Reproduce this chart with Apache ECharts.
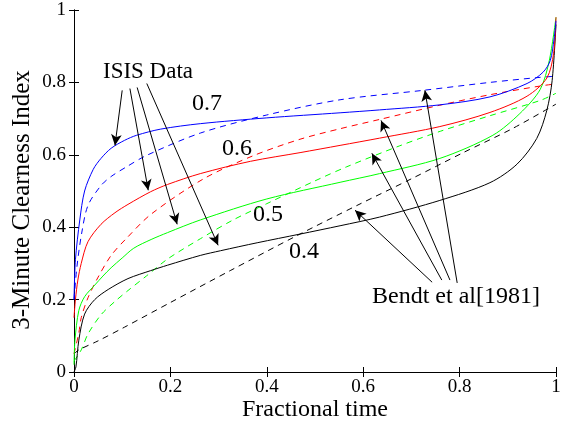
<!DOCTYPE html>
<html>
<head>
<meta charset="utf-8">
<script src="https://cdn.jsdelivr.net/npm/echarts@6/dist/echarts.min.js"></script>
<style>
  html, body { margin: 0; padding: 0; background: #fff; }
  #chart { width: 564px; height: 425px; }
</style>
</head>
<body>
<div id="chart"></div>
<script>
// ISIS data (solid) - [fractional time, clearness index]
const isis07 = [[0, 0.2], [0.003, 0.31], [0.012, 0.42], [0.022, 0.5], [0.04, 0.56], [0.056, 0.59], [0.077, 0.618], [0.105, 0.64], [0.13, 0.654], [0.18, 0.671], [0.262, 0.686], [0.4, 0.702], [0.552, 0.716], [0.634, 0.724], [0.759, 0.738], [0.863, 0.76], [0.94, 0.797], [0.973, 0.828], [0.988, 0.86], [0.996, 0.92], [1, 0.97]];
const isis06 = [[0, 0.15], [0.003, 0.2], [0.008, 0.254], [0.015, 0.3], [0.029, 0.36], [0.056, 0.408], [0.085, 0.44], [0.112, 0.463], [0.159, 0.498], [0.194, 0.518], [0.262, 0.548], [0.366, 0.582], [0.469, 0.606], [0.552, 0.626], [0.634, 0.646], [0.759, 0.678], [0.863, 0.717], [0.94, 0.762], [0.981, 0.812], [0.995, 0.88], [1, 0.98]];
const isis05 = [[0, 0.02], [0.002, 0.088], [0.01, 0.17], [0.022, 0.208], [0.043, 0.24], [0.06, 0.265], [0.077, 0.288], [0.1, 0.315], [0.124, 0.342], [0.16, 0.366], [0.194, 0.385], [0.262, 0.42], [0.4, 0.478], [0.552, 0.524], [0.634, 0.548], [0.759, 0.59], [0.869, 0.654], [0.925, 0.714], [0.967, 0.78], [0.986, 0.86], [1, 0.98]];
const isis04 = [[0, 0], [0.004, 0.014], [0.01, 0.088], [0.022, 0.16], [0.043, 0.2], [0.071, 0.228], [0.112, 0.258], [0.159, 0.28], [0.194, 0.295], [0.262, 0.322], [0.304, 0.335], [0.38, 0.357], [0.469, 0.381], [0.552, 0.404], [0.634, 0.428], [0.759, 0.474], [0.863, 0.523], [0.919, 0.574], [0.96, 0.645], [0.981, 0.723], [0.992, 0.805], [1, 0.96]];

// Bendt et al [1981] (dashed)
const bendt07 = [[0, 0.2], [0.006, 0.29], [0.016, 0.384], [0.029, 0.46], [0.056, 0.515], [0.077, 0.54], [0.108, 0.566], [0.15, 0.598], [0.262, 0.66], [0.4, 0.71], [0.552, 0.752], [0.724, 0.778], [0.863, 0.8], [0.967, 0.814], [1, 0.817]];
const bendt06 = [[0, 0.05], [0.01, 0.108], [0.015, 0.15], [0.029, 0.205], [0.05, 0.262], [0.077, 0.322], [0.108, 0.368], [0.16, 0.436], [0.268, 0.533], [0.371, 0.597], [0.469, 0.643], [0.552, 0.672], [0.635, 0.698], [0.759, 0.737], [0.863, 0.766], [0.967, 0.79], [1, 0.796]];
const bendt05 = [[0, 0.03], [0.015, 0.061], [0.029, 0.105], [0.056, 0.158], [0.085, 0.195], [0.112, 0.225], [0.15, 0.265], [0.194, 0.312], [0.262, 0.368], [0.33, 0.42], [0.4, 0.465], [0.5, 0.528], [0.566, 0.567], [0.676, 0.625], [0.76, 0.665], [0.863, 0.708], [0.967, 0.75], [1, 0.77]];
const bendt04 = [[0, 0.05], [0.01, 0.061], [0.05, 0.086], [0.105, 0.124], [0.2, 0.192], [0.324, 0.28], [0.46, 0.375], [0.587, 0.46], [0.702, 0.535], [0.806, 0.605], [0.909, 0.672], [1, 0.74]];

// annotation arrows: [tail, tip] in data coordinates
const isisArrows = [
  [[0.1, 0.778], [0.085, 0.626]],
  [[0.116, 0.783], [0.154, 0.502]],
  [[0.131, 0.786], [0.214, 0.408]],
  [[0.151, 0.797], [0.299, 0.35]]
];
const bendtArrows = [
  [[0.743, 0.248], [0.583, 0.447]],
  [[0.763, 0.254], [0.618, 0.604]],
  [[0.78, 0.254], [0.637, 0.695]],
  [[0.795, 0.246], [0.728, 0.778]]
];

const font = "'Liberation Serif', 'Times New Roman', serif";

function curve(data, color, dashed) {
  return {
    type: 'line',
    data: data,
    showSymbol: false,
    smooth: 0.3,
    lineStyle: { color: color, width: 1, type: dashed ? [6, 5] : 'solid' },
    silent: true
  };
}

function arrows(list) {
  return list.map(a => [{ coord: a[0] }, { coord: a[1] }]);
}

function label(text, x, y, size, rot) {
  return {
    type: 'text', x: x, y: y, rotation: rot || 0,
    style: { text: text, font: size + 'px ' + font, fill: '#000', align: 'center', verticalAlign: 'middle' }
  };
}

const axisCommon = {
  type: 'value', min: 0, max: 1, interval: 0.2,
  axisLine: { show: true, lineStyle: { color: '#000', width: 1 } },
  axisTick: { show: true, inside: true, length: 5, lineStyle: { color: '#000' } },
  splitLine: { show: false }
};

const chart = echarts.init(document.getElementById('chart'));
chart.setOption({
  animation: false,
  backgroundColor: '#fff',
  grid: { left: 74, right: 8, top: 10, bottom: 53 },
  xAxis: [
    Object.assign({}, axisCommon, {
      position: 'bottom',
      axisLabel: { margin: 6, fontFamily: font, fontSize: 19, color: '#000' }
    }),
    Object.assign({}, axisCommon, { position: 'top', axisLabel: { show: false } })
  ],
  yAxis: [
    Object.assign({}, axisCommon, {
      position: 'left',
      axisLabel: { margin: 8, fontFamily: font, fontSize: 19, color: '#000' }
    }),
    Object.assign({}, axisCommon, { position: 'right', axisLabel: { show: false } })
  ],
  series: [
    curve(bendt04, '#000', true),
    curve(bendt05, '#00ff00', true),
    curve(bendt06, '#ff0000', true),
    curve(bendt07, '#0000ff', true),
    curve(isis04, '#000', false),
    curve(isis05, '#00ff00', false),
    curve(isis06, '#ff0000', false),
    curve(isis07, '#0000ff', false),
    {
      type: 'line',
      data: [],
      markLine: {
        silent: true,
        symbol: ['none', 'arrow'],
        symbolSize: [8, 11],
        label: { show: false },
        lineStyle: { color: '#000', width: 1, type: 'solid' },
        data: arrows(isisArrows).concat(arrows(bendtArrows))
      }
    }
  ],
  graphic: [
    label('ISIS Data', 148, 72, 23),
    label('0.7', 207, 104, 24),
    label('0.6', 237, 149, 24),
    label('0.5', 268, 215, 24),
    label('0.4', 304, 252, 24),
    label('Bendt et al[1981]', 456, 297, 24),
    label('Fractional time', 315, 410, 24),
    label('3-Minute Clearness Index', 22, 200, 25, Math.PI / 2)
  ]
});
</script>
</body>
</html>
